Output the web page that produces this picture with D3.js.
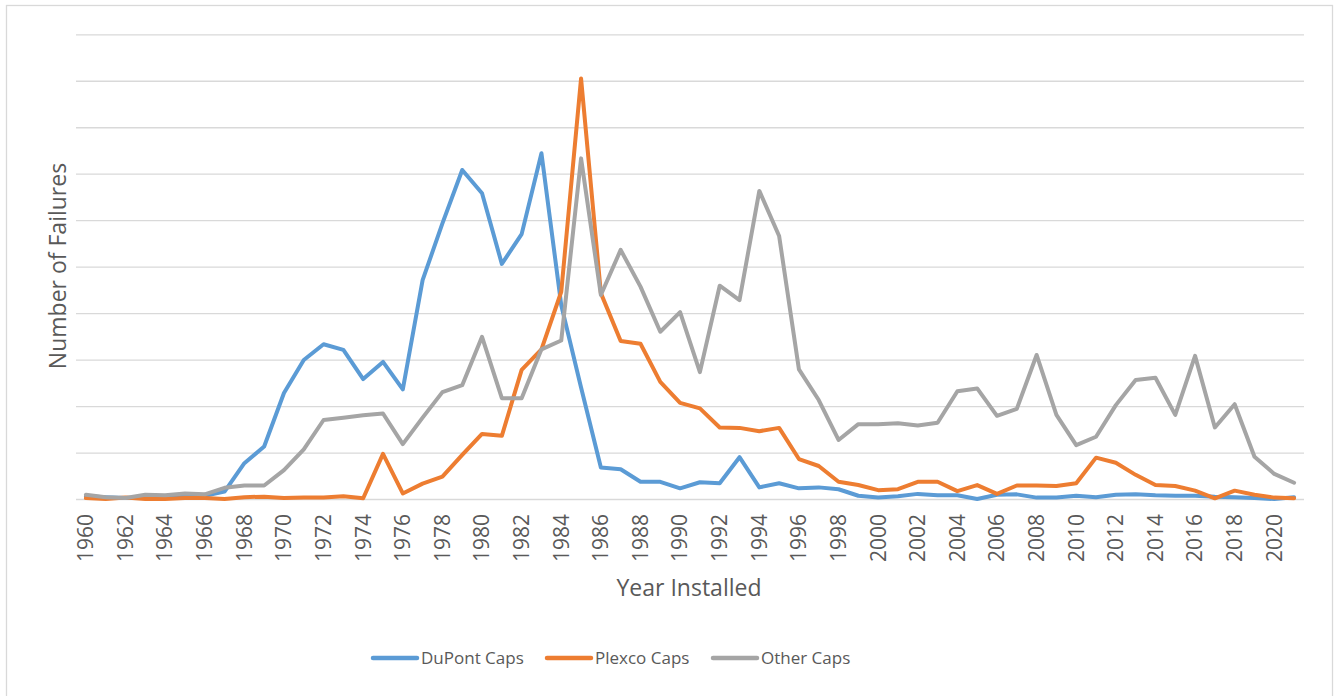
<!DOCTYPE html>
<html>
<head>
<meta charset="utf-8">
<script src="https://cdn.jsdelivr.net/npm/d3@7"></script>
<style>
    html, body { margin: 0; padding: 0; background: #ffffff; }
    svg { display: block; font-family: "Open Sans", "Liberation Sans", sans-serif; }
</style>
</head>
<body>
<div id="chart"></div>
<script>
    // values (one gridline = 10 units)
    var years = d3.range(1960, 2022);
    var tickYears = d3.range(1960, 2022, 2);
    var seriesNames = ["DuPont Caps", "Plexco Caps", "Other Caps"];
    var seriesColors = ["#5B9BD5", "#ED7D31", "#A5A5A5"];

    var dupontCaps = [
        0.6, 0.4, 0.2, 0.3, 0.3, 0.5, 0.7, 1.6, 7.7, 11.3,
        22.8, 29.9, 33.3, 32.1, 25.8, 29.5, 23.6, 47.1, 59.3, 70.8,
        65.8, 50.6, 57.0, 74.4, 41.7, 24.0, 6.8, 6.4, 3.7, 3.7,
        2.3, 3.6, 3.4, 9.0, 2.5, 3.4, 2.3, 2.5, 2.1, 0.7,
        0.3, 0.6, 1.1, 0.8, 0.8, 0.0, 0.9, 1.0, 0.3, 0.3,
        0.7, 0.4, 0.9, 1.0, 0.8, 0.7, 0.7, 0.5, 0.4, 0.2,
        0.0, 0.4
    ];
    var plexcoCaps = [
        0.2, 0.0, 0.3, 0.0, 0.0, 0.2, 0.2, 0.0, 0.4, 0.5,
        0.2, 0.3, 0.3, 0.6, 0.15, 9.7, 1.2, 3.3, 4.8, 9.5,
        14.0, 13.6, 27.8, 32.2, 44.6, 90.5, 44.3, 34.0, 33.4, 25.2,
        20.7, 19.5, 15.4, 15.3, 14.6, 15.3, 8.6, 7.1, 3.7, 3.0,
        1.9, 2.1, 3.7, 3.7, 1.7, 3.0, 1.1, 2.9, 2.9, 2.8,
        3.4, 8.9, 7.8, 5.2, 3.0, 2.8, 1.8, 0.15, 1.8, 0.9,
        0.3, 0.15
    ];
    var otherCaps = [
        0.9, 0.4, 0.2, 0.9, 0.8, 1.2, 1.0, 2.4, 2.9, 2.9,
        6.2, 10.7, 17.0, 17.5, 18.0, 18.4, 11.8, 17.5, 23.0, 24.5,
        34.9, 21.7, 21.7, 32.2, 34.1, 73.3, 43.9, 53.6, 45.7, 36.0,
        40.2, 27.3, 45.9, 42.8, 66.3, 56.6, 27.9, 21.3, 12.7, 16.1,
        16.1, 16.3, 15.8, 16.4, 23.2, 23.8, 17.9, 19.4, 31.0, 18.1,
        11.6, 13.4, 20.2, 25.6, 26.1, 18.1, 30.8, 15.4, 20.4, 9.1,
        5.4, 3.5
    ];
    var yTicks = d3.range(0, 101, 10);

    var width = 1334, height = 696;
    var plot = { left: 76, right: 1304, top: 34.3, bottom: 499 };
    var textColor = "#595959";
    var gridColor = "#D9D9D9";

    var svg = d3.select("#chart").append("svg")
        .attr("width", width)
        .attr("height", height);

    // chart area border
    svg.append("rect")
        .attr("x", 6.5).attr("y", 5.5)
        .attr("width", 1326).attr("height", 700)
        .attr("fill", "#ffffff")
        .attr("stroke", gridColor)
        .attr("stroke-width", 1.3);

    var x = d3.scaleBand().domain(years).range([plot.left, plot.right]);
    var y = d3.scaleLinear().domain([0, 100]).range([plot.bottom, plot.top]);

    var xc = function (yr) {
        return x(yr) + x.bandwidth() / 2;
    };

    // horizontal gridlines, no labels on the value axis
    var grid = svg.append("g")
        .attr("transform", "translate(" + plot.left + ",0)")
        .call(d3.axisLeft(y).tickValues(yTicks).tickSize(-(plot.right - plot.left)).tickFormat(""));
    grid.select(".domain").remove();
    grid.selectAll(".tick line").attr("stroke", gridColor).attr("stroke-width", 1.3);

    // category axis labels, rotated
    var xAxis = svg.append("g")
        .attr("transform", "translate(0," + plot.bottom + ")")
        .call(d3.axisBottom(x).tickValues(tickYears).tickSize(0));
    xAxis.select(".domain").remove();
    xAxis.selectAll(".tick text")
        .attr("transform", "rotate(-90)")
        .attr("x", -15)
        .attr("y", 0)
        .attr("dy", "0.35em")
        .style("text-anchor", "end")
        .style("font-family", "'Open Sans', sans-serif")
        .style("font-size", "21px")
        .attr("fill", textColor);

    var line = d3.line()
        .x(function (d, i) { return xc(years[i]); })
        .y(function (d) { return y(d); });

    var allSeries = [dupontCaps, plexcoCaps, otherCaps];
    // draw in order so grey sits on top, like the original
    allSeries.forEach(function (vals, i) {
        svg.append("path")
            .datum(vals)
            .attr("d", line)
            .attr("fill", "none")
            .attr("stroke", seriesColors[i])
            .attr("stroke-width", 4)
            .attr("stroke-linejoin", "round")
            .attr("stroke-linecap", "round");
    });

    // axis titles
    svg.append("text")
        .attr("transform", "translate(66," + 266 + ") rotate(-90)")
        .attr("text-anchor", "middle")
        .attr("fill", textColor)
        .style("font-size", "23px")
        .text("Number of Failures");

    svg.append("text")
        .attr("x", 689)
        .attr("y", 596)
        .attr("text-anchor", "middle")
        .attr("fill", textColor)
        .style("font-size", "23px")
        .text("Year Installed");

    // legend
    var legendX = [373, 547, 713];
    var legend = svg.append("g");
    seriesNames.forEach(function (name, i) {
        legend.append("line")
            .attr("x1", legendX[i]).attr("x2", legendX[i] + 44)
            .attr("y1", 658).attr("y2", 658)
            .attr("stroke", seriesColors[i])
            .attr("stroke-width", 4.5)
            .attr("stroke-linecap", "round");
        legend.append("text")
            .attr("x", legendX[i] + 48)
            .attr("y", 658)
            .attr("dy", "0.35em")
            .attr("fill", textColor)
            .style("font-size", "17px")
            .text(name);
    });
</script>
</body>
</html>
